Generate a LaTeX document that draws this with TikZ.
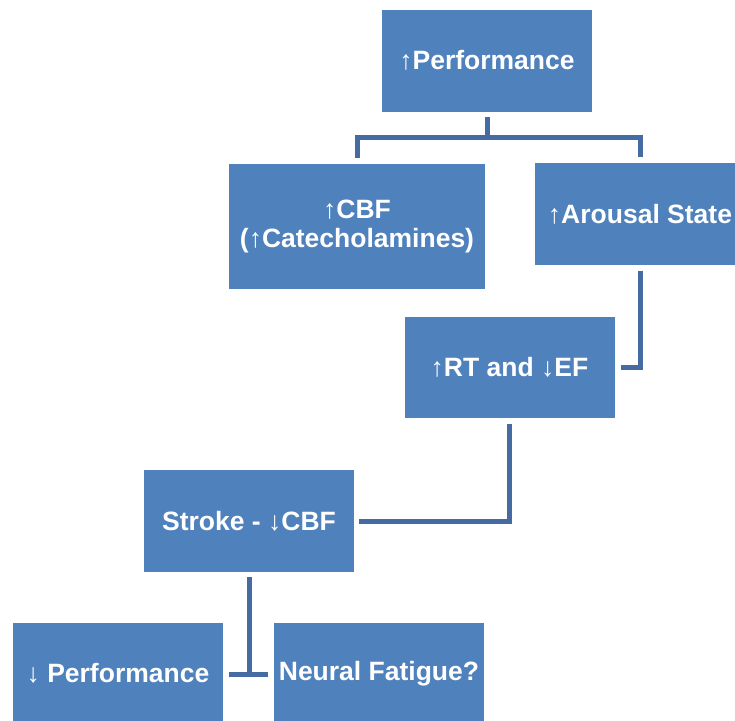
\documentclass[tikz,border=0pt]{standalone}
\usepackage{fontspec}
\setmainfont{Liberation Sans}
\usetikzlibrary{calc}
\definecolor{boxblue}{RGB}{79,129,189}
\definecolor{linkblue}{RGB}{68,108,163}
\begin{document}
\begin{tikzpicture}[x=1pt,y=-1pt,
  box/.style={fill=boxblue,draw=none,inner sep=0pt,minimum width=210pt,minimum height=102pt,
    text=white,font=\fontsize{26.5}{28.5}\selectfont\bfseries,align=center},
  link/.style={draw=linkblue,line width=5pt}]
\useasboundingbox (0,0) rectangle (735,720);
\clip (0,0) rectangle (735,720);
\node[box] (top) at (487,60.5) {↑Performance};
\node[box,minimum width=256pt,minimum height=125pt] (cbf) at (357,226.5) {↑CBF\\(↑Catecholamines)};
\node[box] (aro) at (640,214) {↑Arousal State};
\node[box,minimum height=101pt] (rt) at (509.5,367.5) {↑RT and ↓EF};
\node[box] (stroke) at (249,521) {Stroke - ↓CBF};
\node[box] (perf) at (118,673.5) {↓ Performance};
\node[box] (fat) at (379,673.5) {Neural Fatigue?};
% tree from top
\coordinate (mid) at ($(top.south)+(0,26)$);
\draw[link] ($(top.south)+(0,5)$) -- (mid);
\draw[link] ($(cbf.north)+(0,-6)$) |- (mid) -| ($(aro.north)+(0,-6)$);
% arousal to RT
\draw[link] ($(aro.south)+(0,6)$) |- ($(rt.east)+(6,0)$);
% RT to stroke
\draw[link] ($(rt.south)+(0,6)$) |- ($(stroke.east)+(5,0)$);
% stroke T-bar
\coordinate (tb) at ($(stroke.south)+(0,102)$);
\draw[link] ($(stroke.south)+(0,5)$) -- (tb);
\draw[link] ($(tb)+(-20,0)$) -- ($(tb)+(19,0)$);
\end{tikzpicture}
\end{document}
